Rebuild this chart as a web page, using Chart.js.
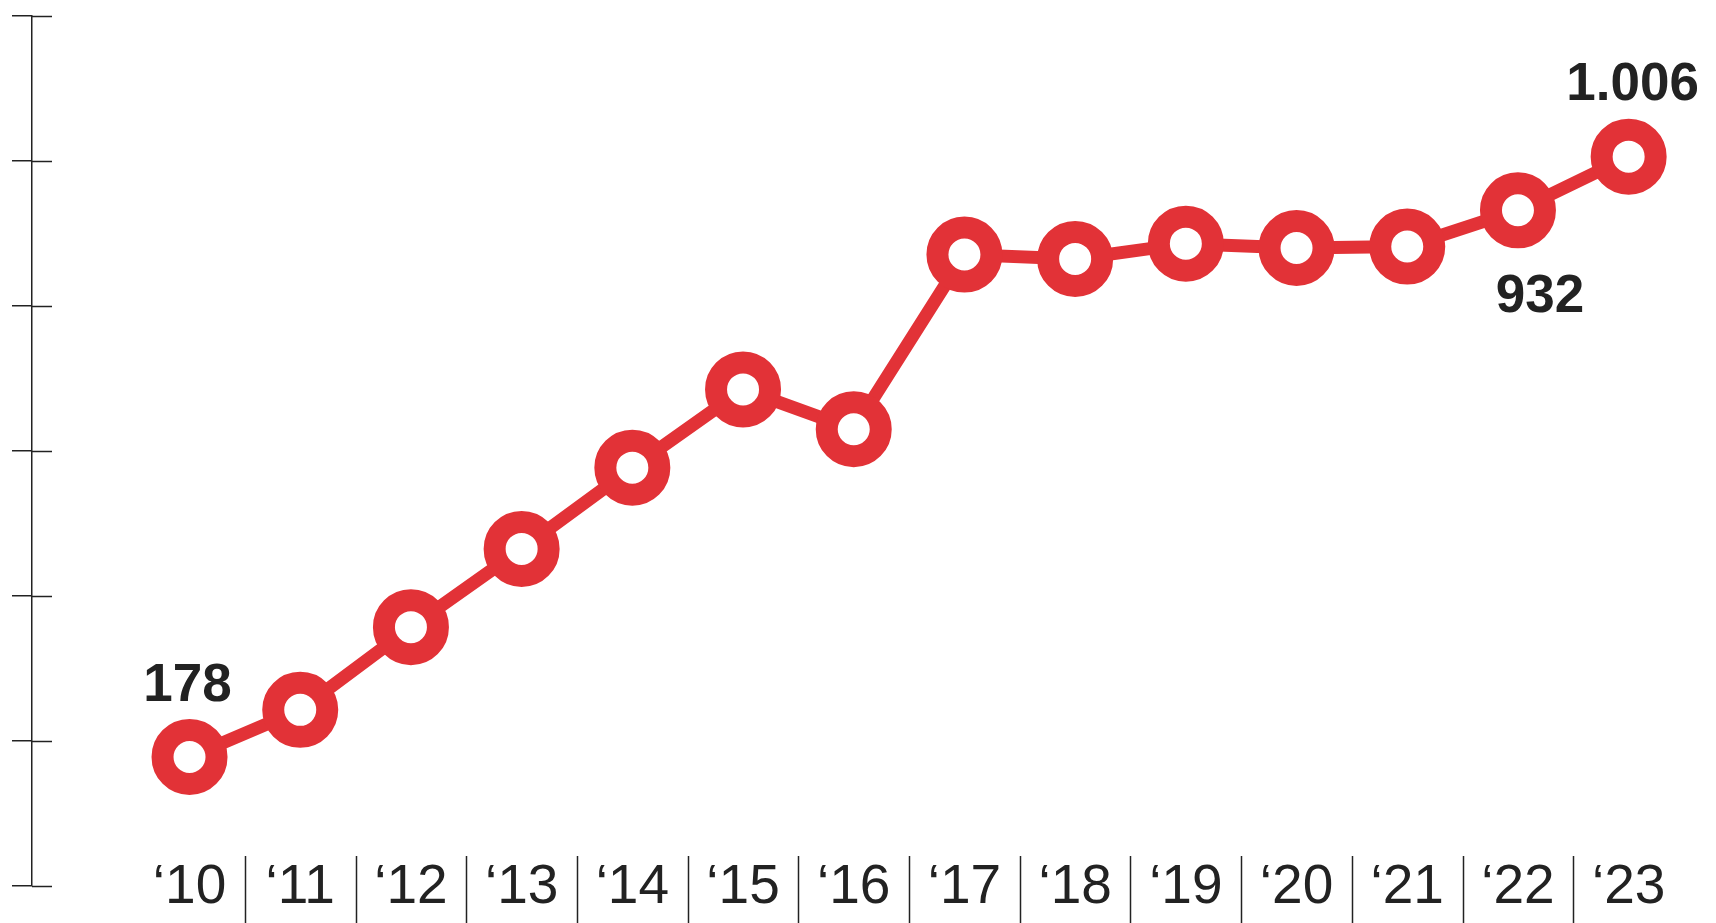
<!DOCTYPE html>
<html>
<head>
<meta charset="utf-8">
<script src="https://cdn.jsdelivr.net/npm/chart.js@4.4.1/dist/chart.umd.min.js"></script>
<style>
  html, body { margin: 0; padding: 0; background: #fff; }
  #wrap { width: 1716px; height: 923px; position: relative; }
</style>
</head>
<body>
<div id="wrap"><canvas id="lineChart"></canvas></div>
<script>
// Chart data
const years = [2010, 2011, 2012, 2013, 2014, 2015, 2016, 2017, 2018, 2019, 2020, 2021, 2022, 2023];
const values = [178, 243, 357, 465, 577, 685, 630, 871, 865, 886, 880, 882, 932, 1006];
const yTicks = [0, 200, 400, 600, 800, 1000, 1200];
// which points get a value label, and on which side
const labelledIdx = [0, 12, 13];
const labelSide = ['above', 'below', 'above'];

const RED = '#e23237';
const INK = '#222222';

// 1006 -> "1.006"
function fmt(v) {
    if (v < 1000) return String(v);
    return Math.floor(v / 1000) + '.' + String(v % 1000).padStart(3, '0');
}

/**
 * Extra axis bits: inner half of the y ticks, separators between year labels,
 * value labels next to selected points
 */
const decorations = {
    id: 'decorations',
    afterDraw(chart) {
        const { ctx, chartArea, scales } = chart;
        const x = scales.x, y = scales.y;

        ctx.save();
        ctx.strokeStyle = INK;
        ctx.lineWidth = 1.5;

        // inner tick stubs
        y.ticks.forEach(t => {
            const py = Math.round(y.getPixelForValue(t.value)) + 0.5;
            ctx.beginPath();
            ctx.moveTo(chartArea.left, py);
            ctx.lineTo(chartArea.left + 20, py);
            ctx.stroke();
        });

        // separators between year labels
        for (let i = 0; i < years.length - 1; i++) {
            const px = Math.round(x.getPixelForValue((years[i] + years[i + 1]) / 2)) + 0.5;
            ctx.beginPath();
            ctx.moveTo(px, chartArea.bottom - 30);
            ctx.lineTo(px, chart.height);
            ctx.stroke();
        }

        // value labels
        const meta = chart.getDatasetMeta(0);
        ctx.fillStyle = INK;
        ctx.font = 'bold 53px "Liberation Sans", Arial, sans-serif';
        ctx.textAlign = 'center';
        ctx.textBaseline = 'middle';
        labelledIdx.forEach((idx, k) => {
            const pt = meta.data[idx];
            if (labelSide[k] === 'above') {
                ctx.fillText(fmt(values[idx]), pt.x + (idx === 0 ? -2 : 4), pt.y - 71);
            } else {
                ctx.fillText(fmt(values[idx]), pt.x + 22, pt.y + 87);
            }
        });
        ctx.restore();
    }
};

const ctx = document.getElementById('lineChart').getContext('2d');
new Chart(ctx, {
    type: 'line',
    data: {
        datasets: [{
            data: years.map((yr, i) => ({ x: yr, y: values[i] })),
            borderColor: RED,
            borderWidth: 13,
            tension: 0,
            pointRadius: 27,
            pointBorderWidth: 22,
            pointBackgroundColor: '#ffffff',
            pointBorderColor: RED,
            clip: false
        }]
    },
    options: {
        responsive: true,
        maintainAspectRatio: false,
        animation: false,
        events: [],
        layout: { autoPadding: false, padding: { left: 12, right: 32, top: 16, bottom: 37 } },
        plugins: { legend: { display: false }, tooltip: { enabled: false } },
        scales: {
            x: {
                type: 'linear',
                min: 2008.577,
                max: 2023.5,
                afterBuildTicks: s => { s.ticks = years.map(v => ({ value: v })); },
                grid: { display: false },
                border: { display: false },
                ticks: {
                    autoSkip: false,
                    maxRotation: 0,
                    mirror: true,
                    padding: -35,
                    color: INK,
                    font: { family: '"Liberation Sans", Arial, sans-serif', size: 55 },
                    callback: v => '\u2018' + String(v).slice(2)
                }
            },
            y: {
                min: yTicks[0],
                max: yTicks[yTicks.length - 1],
                afterBuildTicks: s => { s.ticks = yTicks.map(v => ({ value: v })); },
                grid: { drawOnChartArea: false, drawTicks: true, tickLength: 20, color: INK, lineWidth: 1.5 },
                border: { display: true, color: INK, width: 1.5 },
                ticks: { display: false }
            }
        }
    },
    plugins: [decorations]
});
</script>
</body>
</html>
